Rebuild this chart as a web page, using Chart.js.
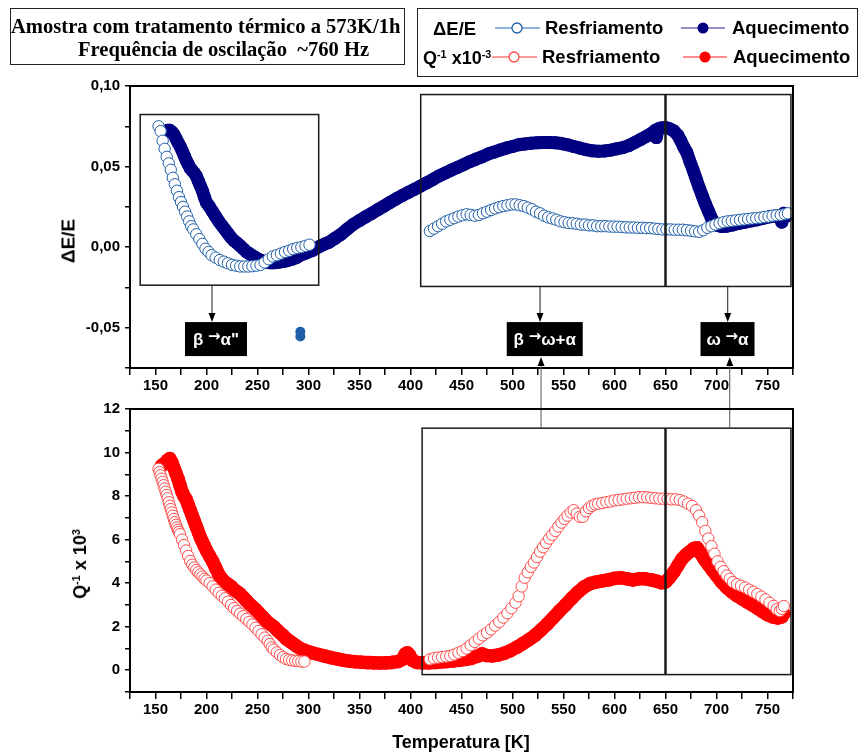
<!DOCTYPE html>
<html>
<head>
<meta charset="utf-8">
<script src="https://cdn.jsdelivr.net/npm/chart.js@4.4.1/dist/chart.umd.min.js"></script>
<style>
  body { margin: 0; background: #fff; }
  #page { position: relative; width: 861px; height: 753px; overflow: hidden; font-family: 'Liberation Sans', Arial, sans-serif; }
  canvas { position: absolute; left: 0; }
  #topChart { top: 0; }
  #bottomChart { top: 340px; }
  .box { position: absolute; border: 1.5px solid #222; box-sizing: border-box; }
  .txt { position: absolute; white-space: pre; font-weight: bold; line-height: 1; transform: translateY(-50%); color: #000; }
  .serif { font-family: 'Liberation Serif', 'Times New Roman', serif; font-size: 20.6px; }
  .leg { font-size: 18.5px; }
  .ytitle { position: absolute; white-space: pre; font-weight: bold; line-height: 1; transform: translate(-50%, -50%) rotate(-90deg); }
  sup { font-size: 60%; vertical-align: 0.55em; line-height: 0; }
</style>
</head>
<body>
<div id="page">
  <canvas id="topChart" width="861" height="400"></canvas>
  <canvas id="bottomChart" width="861" height="413"></canvas>

  <div class="box" style="left:10px; top:8px; width:395px; height:57px;"></div>
  <div class="txt serif" style="left:11px; top:26px;">Amostra com tratamento térmico a 573K/1h</div>
  <div class="txt serif" style="left:78px; top:49px;">Frequência de oscilação  ~760 Hz</div>

  <div class="box" style="left:417px; top:8px; width:441px; height:69px;"></div>
  <svg style="position:absolute; left:0; top:0;" width="861" height="80">
    <line x1="495" y1="28" x2="540" y2="28" stroke="#6a9ed6" stroke-width="1.5"/>
    <circle cx="517" cy="28" r="5" fill="#fff" stroke="#1f5fa8" stroke-width="1.3"/>
    <line x1="681" y1="28" x2="725" y2="28" stroke="#6c6cb4" stroke-width="1.5"/>
    <circle cx="703" cy="28" r="5.5" fill="#000080"/>
    <line x1="492" y1="57" x2="537" y2="57" stroke="#ff7a7a" stroke-width="1.5"/>
    <circle cx="514" cy="57" r="5" fill="#fff" stroke="#ff4a4a" stroke-width="1.3"/>
    <line x1="683" y1="57" x2="727" y2="57" stroke="#ff6a6a" stroke-width="1.5"/>
    <circle cx="705" cy="57" r="5.5" fill="#ff0000"/>
  </svg>
  <div class="txt leg" style="left:433px; top:29px;">ΔE/E</div>
  <div class="txt leg" style="left:545px; top:28px;">Resfriamento</div>
  <div class="txt leg" style="left:732px; top:28px;">Aquecimento</div>
  <div class="txt leg" style="left:423px; top:58px; font-size:18px;">Q<sup>-1</sup> x10<sup>-3</sup></div>
  <div class="txt leg" style="left:542px; top:57px;">Resfriamento</div>
  <div class="txt leg" style="left:733px; top:57px;">Aquecimento</div>

  <div class="ytitle" style="left:68px; top:241px; font-size:19px;">ΔE/E</div>
  <div class="ytitle" style="left:80px; top:564px; font-size:18px;">Q<sup>-1</sup> x 10<sup>3</sup></div>
  <div class="txt" style="left:461px; top:742px; font-size:18px; transform: translate(-50%, -50%);">Temperatura [K]</div>
</div>

<script>
// ΔE/E, cooling run (open circles)
const resfTempDE = [153, 155, 157, 159, 161, 163, 165, 167, 169, 171, 173, 175, 177, 179, 181, 183, 185, 187, 190, 193,
  196, 199, 202, 205, 209, 213, 217, 221, 225, 229, 233, 237, 241, 245, 249, 253, 257, 261, 265, 269,
  273, 277, 281, 285, 289, 293, 297, 301,
  419, 423, 427, 431, 435, 439, 443, 447, 451, 455, 459, 463, 467, 471, 475, 479, 483, 487, 491, 495,
  499, 503, 507, 511, 515, 519, 523, 527, 531, 535, 539, 543, 547, 551, 555, 559, 563, 567, 571, 575,
  579, 583, 587, 591, 595, 599, 603, 607, 611, 615, 619, 623, 627, 631, 635, 639, 643, 647, 651, 655,
  659, 663, 667, 671, 675, 679, 683, 687, 691, 695, 699, 703, 707, 711, 715, 719, 723, 727, 731, 735,
  739, 743, 747, 751, 755, 759, 763, 767, 770]
const resfDE = [0.075, 0.072, 0.066, 0.061, 0.056, 0.052, 0.048, 0.043, 0.039, 0.035, 0.031, 0.028, 0.025, 0.022, 0.019, 0.016, 0.013, 0.011, 0.008, 0.005,
  0.002, -0.001, -0.003, -0.005, -0.0065, -0.008, -0.009, -0.010, -0.011, -0.0115, -0.012, -0.012, -0.012, -0.0118, -0.0115, -0.011, -0.0095, -0.0075, -0.0058, -0.005,
  -0.004, -0.003, -0.0022, -0.0012, -0.0005, 0.0, 0.0008, 0.0015,
  0.0100, 0.0115, 0.013, 0.0145, 0.016, 0.017, 0.018, 0.019, 0.0198, 0.0204, 0.020, 0.0195, 0.020, 0.021, 0.022, 0.023, 0.024, 0.0248, 0.0255, 0.026,
  0.0265, 0.0265, 0.026, 0.0255, 0.0245, 0.0235, 0.022, 0.021, 0.0195, 0.0185, 0.0178, 0.017, 0.016, 0.0155, 0.015, 0.0148, 0.0145, 0.014, 0.014, 0.0135,
  0.0135, 0.013, 0.013, 0.013, 0.0128, 0.0127, 0.0127, 0.0125, 0.0123, 0.0122, 0.0122, 0.012, 0.012, 0.0118, 0.0118, 0.0115, 0.0113, 0.011, 0.011, 0.011,
  0.0108, 0.0108, 0.0108, 0.0105, 0.0102, 0.0098, 0.0095, 0.0105, 0.012, 0.013, 0.014, 0.0148, 0.0155, 0.016, 0.0163, 0.0166, 0.0169, 0.0172, 0.0175, 0.0178,
  0.018, 0.0183, 0.0187, 0.019, 0.0195, 0.0198, 0.020, 0.0205, 0.021]
// stray cooling reading near 292 K
const resfTempDot = [292, 292]
const resfDot = [-0.0525, -0.0555]

// ΔE/E, heating run (filled)
const aquecTempDE = [160, 162, 164, 166, 168, 170, 172, 174, 176, 178, 180, 182, 184, 186, 188, 190, 192, 194, 196, 198,
  200, 203, 206, 209, 212, 215, 218, 221, 224, 227, 230, 233, 236, 239, 242, 245, 248, 251, 254, 257,
  260, 263, 266, 269, 272, 276, 280, 284, 288, 292, 296, 300, 304, 308, 312, 316, 320, 326, 332, 338,
  344, 350, 356, 362, 368, 374, 380, 386, 392, 398, 404, 410, 416, 422, 428, 434, 440, 446, 452, 458,
  464, 470, 476, 482, 488, 494, 500, 506, 512, 518, 524, 530, 536, 542, 548, 554, 560, 566, 572, 578,
  584, 590, 596, 602, 608, 614, 620, 626, 632, 636, 640, 641, 643, 646, 650, 654, 658, 662, 665, 668,
  671, 674, 677, 680, 683, 686, 689, 692, 695, 698, 701, 705, 710, 716, 722, 728, 734, 740, 746, 752,
  758, 762, 764, 766, 768]
const aquecDE = [0.0715, 0.0725, 0.0725, 0.0715, 0.070, 0.0675, 0.065, 0.0627, 0.060, 0.057, 0.054, 0.0515, 0.049, 0.0475, 0.046, 0.0441, 0.041, 0.038, 0.035, 0.031,
  0.0276, 0.025, 0.022, 0.019, 0.016, 0.0135, 0.011, 0.0085, 0.006, 0.004, 0.0025, 0.0008, -0.001, -0.0028, -0.004, -0.0053, -0.0065, -0.0075, -0.0083, -0.009,
  -0.0095, -0.0097, -0.0097, -0.0095, -0.0092, -0.0088, -0.0082, -0.0075, -0.0065, -0.005, -0.004, -0.003, -0.002, -0.0005, 0.0008, 0.002, 0.003, 0.0055, 0.008, 0.0112,
  0.0142, 0.0165, 0.0188, 0.021, 0.0233, 0.0255, 0.0278, 0.030, 0.032, 0.034, 0.036, 0.038, 0.040, 0.042, 0.0442, 0.046, 0.0478, 0.0495, 0.0512, 0.053,
  0.0546, 0.056, 0.0578, 0.059, 0.0603, 0.0615, 0.0625, 0.0635, 0.064, 0.0645, 0.0648, 0.065, 0.065, 0.0648, 0.0643, 0.0635, 0.0625, 0.0615, 0.0605, 0.0598,
  0.0595, 0.0597, 0.0602, 0.061, 0.0617, 0.063, 0.065, 0.067, 0.069, 0.0705, 0.0725, 0.068, 0.0735, 0.074, 0.0742, 0.0735, 0.0722, 0.0695, 0.066, 0.062,
  0.0586, 0.053, 0.048, 0.0425, 0.037, 0.032, 0.027, 0.0225, 0.018, 0.015, 0.0135, 0.0128, 0.013, 0.0138, 0.0148, 0.0155, 0.0163, 0.017, 0.018, 0.0188,
  0.0193, 0.0195, 0.0155, 0.021, 0.019]

// Q^-1 x 10^3, cooling run (open circles)
const resfTempQ = [153, 154, 155, 156, 157, 158, 159, 160, 161, 162, 163, 164, 165, 166, 167, 168, 169, 170, 171, 172,
  173, 174, 176, 178, 180, 182, 184, 186, 188, 190, 192, 194, 196, 198, 200, 203, 206, 209, 212, 215,
  218, 221, 224, 227, 230, 233, 236, 239, 242, 245, 248, 251, 254, 257, 260, 262, 264, 266, 269, 272,
  275, 278, 281, 284, 287, 290, 293, 296,
  419, 423, 427, 431, 435, 439, 443, 447, 451, 455, 459, 463, 467, 471, 475, 479, 483, 487, 491, 495,
  499, 503, 506, 509, 512, 515, 518, 521, 524, 527, 530, 533, 536, 539, 542, 545, 548, 551, 554, 557,
  560, 563, 566, 569, 572, 575, 578, 581, 584, 588, 592, 596, 600, 604, 608, 612, 616, 620, 624, 628,
  632, 636, 640, 644, 648, 652, 656, 660, 664, 668, 672, 676, 680, 683, 686, 689, 692, 695, 698, 701,
  704, 707, 710, 713, 716, 720, 724, 728, 732, 736, 740, 744, 748, 752, 756, 759, 762, 764, 766]
const resfQ = [9.25, 9.1, 8.95, 8.8, 8.65, 8.5, 8.35, 8.2, 8.05, 7.9, 7.72, 7.55, 7.4, 7.25, 7.1, 6.95, 6.8, 6.68, 6.56, 6.45,
  6.35, 6.25, 6.0, 5.75, 5.5, 5.25, 5.02, 4.85, 4.72, 4.6, 4.5, 4.4, 4.3, 4.2, 4.12, 4.0, 3.85, 3.7, 3.55, 3.42,
  3.3, 3.15, 3.0, 2.85, 2.72, 2.6, 2.48, 2.35, 2.22, 2.1, 1.95, 1.8, 1.65, 1.5, 1.35, 1.2, 1.05, 0.95, 0.82, 0.7,
  0.6, 0.52, 0.48, 0.45, 0.43, 0.42, 0.4, 0.4,
  0.5, 0.55, 0.58, 0.6, 0.63, 0.66, 0.72, 0.8, 0.88, 1.0, 1.15, 1.3, 1.45, 1.6, 1.72, 1.88, 2.05, 2.22, 2.42, 2.62,
  2.85, 3.1, 3.4, 3.85, 4.25, 4.5, 4.75, 4.95, 5.2, 5.45, 5.65, 5.85, 6.05, 6.22, 6.4, 6.6, 6.78, 6.95, 7.1, 7.25,
  7.35, 7.2, 7.05, 7.05, 7.3, 7.45, 7.55, 7.62, 7.65, 7.68, 7.72, 7.75, 7.8, 7.82, 7.85, 7.88, 7.9, 7.92, 7.95, 7.95,
  7.94, 7.92, 7.9, 7.88, 7.88, 7.87, 7.85, 7.85, 7.82, 7.75, 7.65, 7.55, 7.35, 7.1, 6.8, 6.4, 6.05, 5.7, 5.35, 5.0,
  4.75, 4.55, 4.35, 4.2, 4.05, 3.95, 3.88, 3.8, 3.7, 3.6, 3.5, 3.38, 3.25, 3.1, 2.95, 2.8, 2.72, 2.82, 2.95]

// Q^-1 x 10^3, heating run (filled)
const aquecTempQ = [156, 159, 162, 164, 166, 168, 170, 172, 174, 176, 178, 180, 182, 184, 186, 188, 190, 192, 194, 196,
  198, 200, 203, 206, 209, 212, 215, 218, 221, 224, 227, 230, 233, 236, 239, 242, 245, 248, 251, 254,
  257, 260, 263, 266, 269, 272, 275, 278, 281, 284, 288, 292, 296, 300, 305, 310, 316, 322, 328, 334,
  340, 346, 352, 358, 364, 370, 376, 382, 388, 392, 395, 397, 399, 402, 406, 412, 418, 424, 430, 436,
  442, 448, 454, 460, 466, 470, 474, 480, 486, 492, 498, 504, 510, 516, 522, 528, 534, 540, 546, 552,
  558, 564, 570, 576, 582, 588, 594, 600, 606, 612, 618, 624, 630, 636, 642, 646, 650, 654, 658, 662,
  666, 670, 674, 678, 681, 684, 688, 692, 696, 700, 705, 710, 715, 720, 725, 730, 735, 740, 745, 750,
  755, 760, 764, 766]
const aquecQ = [9.4, 9.5, 9.65, 9.72, 9.55, 9.3, 9.05, 8.8, 8.5, 8.2, 8.0, 7.85, 7.6, 7.35, 7.1, 6.85, 6.6, 6.35, 6.1, 5.9,
  5.7, 5.5, 5.25, 5.0, 4.7, 4.4, 4.2, 4.05, 3.95, 3.85, 3.7, 3.6, 3.5, 3.35, 3.2, 3.05, 2.92, 2.8, 2.65, 2.5,
  2.35, 2.2, 2.1, 2.0, 1.85, 1.72, 1.6, 1.45, 1.35, 1.25, 1.12, 1.0, 0.92, 0.85, 0.78, 0.72, 0.65, 0.58, 0.52, 0.46,
  0.42, 0.39, 0.37, 0.35, 0.34, 0.33, 0.34, 0.36, 0.4, 0.5, 0.75, 0.8, 0.7, 0.45, 0.36, 0.34, 0.34, 0.36, 0.38, 0.4,
  0.43, 0.46, 0.5, 0.55, 0.65, 0.75, 0.68, 0.66, 0.7, 0.78, 0.9, 1.05, 1.22, 1.4, 1.6, 1.85, 2.12, 2.42, 2.72, 3.0,
  3.3, 3.58, 3.82, 3.98, 4.05, 4.1, 4.15, 4.22, 4.25, 4.2, 4.15, 4.2, 4.2, 4.15, 4.08, 4.02, 4.05, 4.25, 4.5, 4.8,
  5.1, 5.3, 5.45, 5.6, 5.62, 5.4, 5.1, 4.85, 4.6, 4.35, 4.05, 3.8, 3.6, 3.42, 3.28, 3.14, 3.0, 2.85, 2.7, 2.55,
  2.45, 2.4, 2.45, 2.6]

// phase-transition frames (K) and their labels
const topFrameY = [-0.0236, 0.0823]
const topFrameY2 = [-0.0244, 0.0947]
const bottomFrameY = [-0.2, 11.12]
const phaseLabels = [
  { parts: ['β ', '→', 'α"'], t: 209.3, arrow: 205.4, from: -0.0236, w: 62 },
  { parts: ['β ', '→', 'ω+α'], t: 531.6, arrow: 527, from: -0.0244, w: 76 },
  { parts: ['ω ', '→', 'α'], t: 710.8, arrow: 711, from: -0.0244, w: 54 }
]
const linkTemps = [528, 713]

const BLUE = '#1f5fa8'
const NAVY = '#000080'
const LIGHTRED = '#ff4a4a'
const RED = '#ff0000'
const FONT = "'Liberation Sans', Arial, sans-serif"

const pts = (xs, ys) => xs.map((t, i) => ({ x: t, y: ys[i] }))

function arrowHead (ctx, x, y, dir) {
  // dir = 1 points down, -1 points up; tip at (x, y)
  ctx.beginPath()
  ctx.moveTo(x, y)
  ctx.lineTo(x - 3.5, y - dir * 9)
  ctx.lineTo(x + 3.5, y - dir * 9)
  ctx.closePath()
  ctx.fill()
}

// white label text; the arrow is set in DejaVu so it stays full size
function drawLabelText (ctx, parts, cx, cy) {
  const fonts = ['bold 17px ' + FONT, "bold 15px 'DejaVu Sans'", 'bold 17px ' + FONT]
  const widths = parts.map((p, i) => { ctx.font = fonts[i]; return ctx.measureText(p).width })
  let x = cx - widths.reduce((a, b) => a + b, 0) / 2
  ctx.textAlign = 'left'
  ctx.textBaseline = 'middle'
  parts.forEach((p, i) => {
    ctx.font = fonts[i]
    ctx.fillText(p, x, i === 1 ? cy - 3 : cy)
    x += widths[i]
  })
}

function frameBox (ctx, area) {
  ctx.save()
  ctx.strokeStyle = '#000'
  ctx.lineWidth = 2
  ctx.strokeRect(area.left, area.top, area.right - area.left, area.bottom - area.top)
  ctx.restore()
}

const topMarks = {
  id: 'topMarks',
  afterDatasetsDraw (chart) {
    const { ctx, chartArea, scales: { x, y } } = chart
    ctx.save()
    ctx.strokeStyle = '#1a1a1a'
    ctx.lineWidth = 1.5
    ctx.strokeRect(x.getPixelForValue(135), y.getPixelForValue(topFrameY[1]),
      x.getPixelForValue(310) - x.getPixelForValue(135), y.getPixelForValue(topFrameY[0]) - y.getPixelForValue(topFrameY[1]))
    const yt = y.getPixelForValue(topFrameY2[1])
    const yb = y.getPixelForValue(topFrameY2[0])
    ctx.strokeRect(x.getPixelForValue(410), yt, x.getPixelForValue(773) - x.getPixelForValue(410), yb - yt)
    ctx.lineWidth = 2.5
    ctx.beginPath()
    ctx.moveTo(x.getPixelForValue(650), yt)
    ctx.lineTo(x.getPixelForValue(650), yb)
    ctx.stroke()

    const labTop = y.getPixelForValue(-0.0465)
    ctx.lineWidth = 1
    phaseLabels.forEach(l => {
      const ax = x.getPixelForValue(l.arrow)
      ctx.fillStyle = '#000'
      ctx.beginPath()
      ctx.moveTo(ax, y.getPixelForValue(l.from))
      ctx.lineTo(ax, labTop - 4)
      ctx.stroke()
      arrowHead(ctx, ax, labTop, 1)
      const cx = x.getPixelForValue(l.t)
      ctx.fillRect(cx - l.w / 2, labTop, l.w, 34)
      ctx.fillStyle = '#fff'
      drawLabelText(ctx, l.parts, cx, labTop + 18)
    })
    ctx.restore()
    frameBox(ctx, chartArea)
  }
}

const bottomMarks = {
  id: 'bottomMarks',
  afterDatasetsDraw (chart) {
    const { ctx, chartArea, scales: { x, y } } = chart
    ctx.save()
    ctx.strokeStyle = '#1a1a1a'
    ctx.lineWidth = 1.5
    const yt = y.getPixelForValue(bottomFrameY[1])
    const yb = y.getPixelForValue(bottomFrameY[0])
    ctx.strokeRect(x.getPixelForValue(411.4), yt, x.getPixelForValue(773) - x.getPixelForValue(411.4), yb - yt)
    ctx.lineWidth = 2.5
    ctx.beginPath()
    ctx.moveTo(x.getPixelForValue(650), yt)
    ctx.lineTo(x.getPixelForValue(650), yb)
    ctx.stroke()
    // links running up to the labels of the upper panel
    ctx.strokeStyle = '#555'
    ctx.fillStyle = '#000'
    ctx.lineWidth = 1
    linkTemps.forEach(t => {
      const lx = x.getPixelForValue(t)
      ctx.beginPath()
      ctx.moveTo(lx, yt)
      ctx.lineTo(lx, 22)
      ctx.stroke()
      arrowHead(ctx, lx, 17, -1)
    })
    ctx.restore()
    frameBox(ctx, chartArea)
  }
}

function axisX (height) {
  return {
    type: 'linear',
    min: 125,
    max: 775,
    ticks: {
      stepSize: 25,
      autoSkip: false,
      maxRotation: 0,
      padding: 2,
      color: '#000',
      font: { family: FONT, size: 15, weight: 'bold' },
      callback: v => (v % 50 === 0 ? v : '')
    },
    grid: { drawOnChartArea: false, tickLength: 7, color: '#000', lineWidth: 1.5 },
    border: { color: '#000', width: 2 },
    afterFit: s => { s.height = height }
  }
}

function axisY (min, max, step, label) {
  return {
    min: min,
    max: max,
    ticks: {
      stepSize: step,
      padding: 5,
      color: '#000',
      font: { family: FONT, size: 15, weight: 'bold' },
      callback: label
    },
    grid: { drawOnChartArea: false, tickLength: 5, color: '#000', lineWidth: 1.5 },
    border: { color: '#000', width: 2 },
    afterFit: s => { s.width = 130 }
  }
}

const common = {
  responsive: false,
  animation: false,
  devicePixelRatio: 1,
  plugins: { legend: { display: false }, tooltip: { enabled: false } }
}

new Chart(document.getElementById('topChart'), {
  type: 'scatter',
  data: {
    datasets: [
      { label: 'Resfriamento', data: pts(resfTempDE, resfDE), pointRadius: 5.7, pointBorderWidth: 1, borderColor: BLUE, backgroundColor: '#fff' },
      { label: 'Resfriamento', data: pts(resfTempDot, resfDot), pointRadius: 5, pointBorderWidth: 0, borderColor: BLUE, backgroundColor: BLUE },
      {
        label: 'Aquecimento',
        data: pts(aquecTempDE, aquecDE),
        showLine: true,
        borderWidth: 13,
        borderJoinStyle: 'round',
        borderCapStyle: 'round',
        borderColor: NAVY,
        backgroundColor: NAVY,
        pointRadius: 6.5,
        pointBorderWidth: 0
      }
    ]
  },
  options: {
    ...common,
    layout: { padding: { top: 86, right: 68, left: 0, bottom: 0 } },
    scales: {
      x: axisX(32),
      y: axisY(-0.075, 0.10, 0.025, v => {
        const k = Math.round(v * 1000)
        return k % 50 === 0 ? (k / 1000).toFixed(2).replace('.', ',') : ''
      })
    }
  },
  plugins: [topMarks]
})

new Chart(document.getElementById('bottomChart'), {
  type: 'scatter',
  data: {
    datasets: [
      { label: 'Resfriamento', data: pts(resfTempQ, resfQ), pointRadius: 5.7, pointBorderWidth: 1, borderColor: LIGHTRED, backgroundColor: '#fff' },
      {
        label: 'Aquecimento',
        data: pts(aquecTempQ, aquecQ),
        showLine: true,
        borderWidth: 13.5,
        borderJoinStyle: 'round',
        borderCapStyle: 'round',
        borderColor: RED,
        backgroundColor: RED,
        pointRadius: 6.8,
        pointBorderWidth: 0
      }
    ]
  },
  options: {
    ...common,
    layout: { padding: { top: 69, right: 68, left: 0, bottom: 0 } },
    scales: {
      x: axisX(61),
      y: axisY(-1, 12, 1, v => (v >= 0 && v % 2 === 0 ? v : ''))
    }
  },
  plugins: [bottomMarks]
})
</script>
</body>
</html>
